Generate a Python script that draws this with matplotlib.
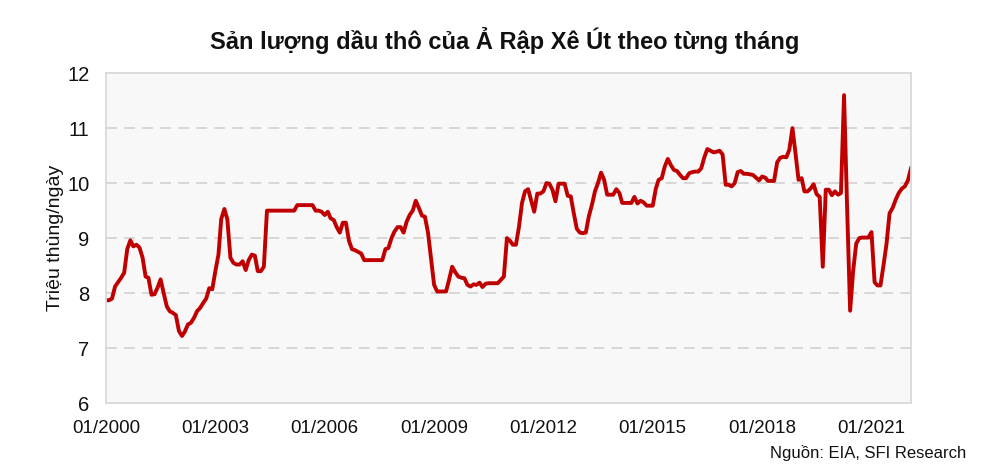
import pandas as pd
import matplotlib
matplotlib.use('Agg')
import matplotlib.pyplot as plt

'''
Saudi Arabia monthly crude oil production, 01/2000 - 02/2022
'''

plt.rcParams['font.family'] = ['Liberation Sans', 'DejaVu Sans']

# million barrels per day, one row per year
production = [
    7.87, 7.87, 7.90, 8.12, 8.20, 8.28, 8.37, 8.80, 8.96, 8.85, 8.88, 8.83,   # 2000
    8.65, 8.30, 8.28, 7.97, 7.98, 8.10, 8.25, 8.00, 7.76, 7.67, 7.64, 7.60,   # 2001
    7.31, 7.22, 7.30, 7.43, 7.46, 7.55, 7.67, 7.73, 7.82, 7.90, 8.09, 8.07,   # 2002
    8.40, 8.70, 9.35, 9.53, 9.34, 8.64, 8.55, 8.52, 8.52, 8.58, 8.42, 8.60,   # 2003
    8.70, 8.68, 8.40, 8.40, 8.48, 9.50, 9.50, 9.50, 9.50, 9.50, 9.50, 9.50,   # 2004
    9.50, 9.50, 9.50, 9.60, 9.60, 9.60, 9.60, 9.60, 9.60, 9.50, 9.50, 9.48,   # 2005
    9.42, 9.48, 9.36, 9.33, 9.20, 9.10, 9.28, 9.28, 8.95, 8.80, 8.78, 8.75,   # 2006
    8.72, 8.60, 8.60, 8.60, 8.60, 8.60, 8.60, 8.60, 8.80, 8.82, 9.00, 9.12,   # 2007
    9.20, 9.20, 9.10, 9.30, 9.42, 9.50, 9.68, 9.55, 9.41, 9.39, 9.10, 8.63,   # 2008
    8.15, 8.03, 8.03, 8.03, 8.03, 8.25, 8.48, 8.38, 8.30, 8.28, 8.27, 8.15,   # 2009
    8.12, 8.16, 8.15, 8.19, 8.11, 8.17, 8.18, 8.18, 8.18, 8.18, 8.24, 8.30,   # 2010
    9.00, 8.95, 8.88, 8.88, 9.20, 9.64, 9.85, 9.89, 9.68, 9.48, 9.81, 9.81,   # 2011
    9.85, 10.00, 9.99, 9.88, 9.67, 9.99, 9.99, 9.99, 9.77, 9.76, 9.45, 9.17,  # 2012
    9.10, 9.09, 9.10, 9.40, 9.60, 9.85, 10.00, 10.19, 10.06, 9.79, 9.79, 9.79,  # 2013
    9.89, 9.82, 9.64, 9.64, 9.64, 9.64, 9.75, 9.63, 9.68, 9.65, 9.59, 9.59,   # 2014
    9.59, 9.90, 10.06, 10.09, 10.30, 10.44, 10.33, 10.24, 10.22, 10.15, 10.09, 10.09,  # 2015
    10.18, 10.20, 10.21, 10.21, 10.27, 10.47, 10.62, 10.59, 10.56, 10.57, 10.59, 10.52,  # 2016
    9.97, 9.97, 9.94, 10.00, 10.20, 10.22, 10.17, 10.17, 10.16, 10.15, 10.10, 10.05,  # 2017
    10.12, 10.10, 10.04, 10.04, 10.04, 10.38, 10.46, 10.48, 10.47, 10.61, 11.00, 10.55,  # 2018
    10.06, 10.09, 9.85, 9.85, 9.90, 9.98, 9.80, 9.75, 8.48, 9.88, 9.88, 9.78,  # 2019
    9.85, 9.79, 9.82, 11.60, 9.60, 7.68, 8.40, 8.90, 9.00, 9.01, 9.01, 9.01,  # 2020
    9.11, 8.20, 8.14, 8.14, 8.50, 8.90, 9.45, 9.55, 9.70, 9.82, 9.90, 9.94,   # 2021
    10.05, 10.27,                                                              # 2022
]
months = pd.date_range('2000-01-01', periods=len(production), freq='MS')

tick_years = [2000, 2003, 2006, 2009, 2012, 2015, 2018, 2021]
tick_labels = ['01/{}'.format(y) for y in tick_years]
y_ticks = [6, 7, 8, 9, 10, 11, 12]

title = 'Sản lượng dầu thô của Ả Rập Xê Út theo từng tháng'
y_label = 'Triệu thùng/ngày'
source = 'Nguồn: EIA, SFI Research'

fig = plt.figure(figsize=(10, 4.72), dpi=100)
ax = fig.add_axes([0.106, 0.146, 0.805, 0.699])
ax.set_facecolor('#F8F8F8')

ax.plot(months, production, color='#C00000', linewidth=2.8, solid_joinstyle='round')

ax.set_xlim(months[0], months[-1])
ax.set_ylim(6, 12)
ax.set_yticks(y_ticks)
ax.set_xticks(pd.to_datetime(['{}-01-01'.format(y) for y in tick_years]))
ax.set_xticklabels(tick_labels)
ax.tick_params(axis='both', length=0, colors='#111111')
ax.tick_params(axis='x', pad=12, labelsize=13.5)
ax.tick_params(axis='y', pad=12, labelsize=14.5)

# dashed gridlines only inside (6 and 12 are the frame)
for v in y_ticks[1:-1]:
    ax.axhline(v, color='#D4D4D4', linewidth=1.3, linestyle=(0, (6, 4)), zorder=0)

for s in ax.spines.values():
    s.set_color('#D9D9D9')
    s.set_linewidth(1.3)

ax.set_ylabel(y_label, fontsize=14, labelpad=2, color='#111111')
fig.text(0.505, 0.915, title, ha='center', va='center', fontsize=17, fontweight='bold', color='#111111')
fig.text(0.966, 0.04, source, ha='right', va='center', fontsize=12, color='#111111')

fig.savefig('out.png', dpi=100, facecolor='white')
